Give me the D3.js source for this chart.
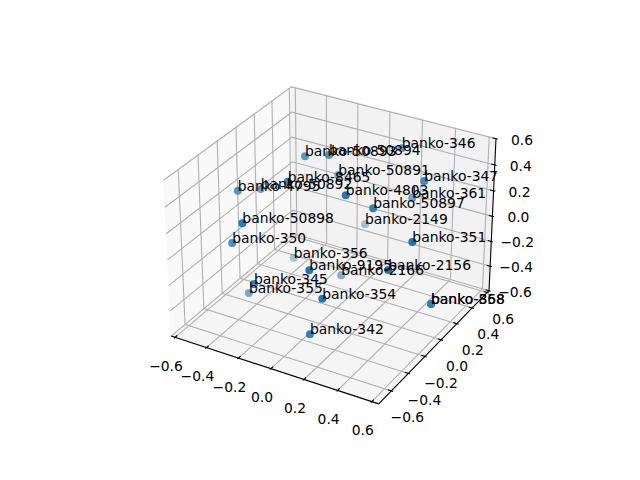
<!DOCTYPE html>
<html><head><meta charset="utf-8">
<script src="https://cdn.jsdelivr.net/npm/d3@7"></script>
<style>html,body{margin:0;background:#fff}svg{display:block}text{font-family:"DejaVu Sans";font-size:13.89px;fill:#000}</style>
</head><body><div id="c"></div>
<script>
const names=["banko-50893","banko-50894","banko-346","banko-347","banko-361","banko-50897","banko-4803","banko-50891","banko-8465","banko-50892","banko-4795","banko-50898","banko-350","banko-356","banko-9195","banko-345","banko-355","banko-354","banko-342","banko-2149","banko-351","banko-2156","banko-2166","banko-358","banko-868"];
const xs=[-0.154,-0.047,0.247,0.487,0.320,0.330,0.247,-0.088,-0.082,-0.390,-0.414,-0.192,-0.330,-0.334,0.199,-0.106,-0.345,0.291,0.211,-0.039,0.612,0.542,0.026,0.619,0.619];
const ys=[-0.074,-0.003,0.274,0.059,0.267,-0.220,-0.370,0.181,-0.393,-0.147,-0.349,-0.681,-0.560,0.111,-0.677,-0.723,-0.375,-0.708,-0.697,0.411,-0.330,-0.461,0.002,-0.097,-0.097];
const zs=[0.574,0.582,0.583,0.535,0.233,0.433,0.584,0.317,0.582,0.286,0.376,0.398,0.129,-0.387,0.192,0.000,-0.379,0.035,-0.275,-0.184,0.348,0.193,-0.327,-0.262,-0.262];
const tickVals=[-0.6,-0.4,-0.2,0,0.2,0.4,0.6];
const xLim=[-0.625,0.64],yLim=[-0.745,0.625],zLim=[-0.6,0.605];

const W=640,H=480;
const svg=d3.select("#c").append("svg").attr("width",W).attr("height",H);
// matplotlib default 3D view: elev 30, azim -60, dist 10
const boxX=1.1905,boxZ=0.8929;
const sx=d3.scaleLinear(xLim,[-boxX/2,boxX/2]);
const sy=d3.scaleLinear(yLim,[-boxX/2,boxX/2]);
const sz=d3.scaleLinear(zLim,[-boxZ/2,boxZ/2]);
const px=d3.scaleLinear([-0.095,0.09],[143.2,512.8]);
const py=d3.scaleLinear([-0.095,0.09],[427.2,57.6]);
const Rv=[.8660254,.5,0],Uv=[-.25,.4330127,.8660254],Dv=[.4330127,-.75,.5];
const dot=(a,b)=>a[0]*b[0]+a[1]*b[1]+a[2]*b[2];
function depth(x,y,z){return dot([sx(x),sy(y),sz(z)],Dv);}
function proj(x,y,z){
  const b=[sx(x),sy(y),sz(z)],w=10-dot(b,Dv);
  return [px(dot(b,Rv)/w),py(dot(b,Uv)/w)];
}
const line=d3.line();
const path3=pts=>line(pts.map(p=>proj(...p)));
const [x0,x1]=xLim,[y0,y1]=yLim,[z0,z1]=zLim;
// panes
const panes=[
 {c:"#f9f9f9",p:[[x0,y0,z0],[x0,y1,z0],[x0,y1,z1],[x0,y0,z1]]},
 {c:"#f2f2f2",p:[[x0,y1,z0],[x1,y1,z0],[x1,y1,z1],[x0,y1,z1]]},
 {c:"#f5f5f5",p:[[x0,y0,z0],[x1,y0,z0],[x1,y1,z0],[x0,y1,z0]]}];
svg.append("g").selectAll("path").data(panes).join("path")
 .attr("d",d=>path3(d.p)+"Z").attr("fill",d=>d.c).attr("stroke",d=>d.c).attr("stroke-width",1);
// grid
const gridLines=[];
tickVals.forEach(v=>{
  gridLines.push([[v,y0,z0],[v,y1,z0],[v,y1,z1]]);
  gridLines.push([[x1,v,z0],[x0,v,z0],[x0,v,z1]]);
  gridLines.push([[x1,y1,v],[x0,y1,v],[x0,y0,v]]);
});
svg.append("g").selectAll("path").data(gridLines).join("path")
 .attr("d",path3).attr("fill","none").attr("stroke","#b0b0b0").attr("stroke-width",1.1);
// axis lines
const axesL=[[[x0,y0,z0],[x1,y0,z0]],[[x1,y0,z0],[x1,y1,z0]],[[x1,y1,z0],[x1,y1,z1]]];
svg.append("g").selectAll("path").data(axesL).join("path")
 .attr("d",path3).attr("fill","none").attr("stroke","#000").attr("stroke-width",1.1);
// ticks
const tickSegs=[];
const dy=(y1-y0)/12,dx=(x1-x0)/12;
tickVals.forEach(v=>{
  tickSegs.push([[v,y0-0.1*dy,z0],[v,y0+0.2*dy,z0]]);
  tickSegs.push([[x1+0.1*dx,v,z0],[x1-0.2*dx,v,z0]]);
  tickSegs.push([[x1+0.1*dx,y1,v],[x1-0.2*dx,y1,v]]);
});
svg.append("g").selectAll("path").data(tickSegs).join("path")
 .attr("d",path3).attr("fill","none").attr("stroke","#000").attr("stroke-width",1.1);
// tick labels
const fmt=v=>(v<0?"\u2212":"")+Math.abs(v).toFixed(1);
const tl=[];
tickVals.forEach(v=>{
  let a=proj(v,y0,z0);tl.push({t:fmt(v),x:a[0]-9,y:a[1]+28.5});
  a=proj(x1,v,z0);tl.push({t:fmt(v),x:a[0]+16,y:a[1]+26.5});
  a=proj(x1,y1,v);tl.push({t:fmt(v),x:a[0]+26,y:a[1]+1});
});
svg.append("g").selectAll("text").data(tl).join("text")
 .attr("x",d=>d.x).attr("y",d=>d.y).attr("text-anchor","middle").attr("dominant-baseline","central").text(d=>d.t);
// points with depth shading
const shade=d3.scaleLinear([-0.55,0.55],[0.3,1]).clamp(true);
const idx=d3.range(names.length).sort((a,b)=>depth(xs[a],ys[a],zs[a])-depth(xs[b],ys[b],zs[b]));
svg.append("g").selectAll("circle").data(idx).join("circle")
 .attr("cx",i=>proj(xs[i],ys[i],zs[i])[0]).attr("cy",i=>proj(xs[i],ys[i],zs[i])[1])
 .attr("r",4).attr("fill","#1f77b4")
 .attr("fill-opacity",i=>shade(depth(xs[i],ys[i],zs[i])));
svg.append("g").selectAll("text.lab").data(names).join("text").attr("class","lab")
 .attr("x",(d,i)=>proj(xs[i],ys[i],zs[i])[0]).attr("y",(d,i)=>proj(xs[i],ys[i],zs[i])[1]).text(d=>d);
</script></body></html>
